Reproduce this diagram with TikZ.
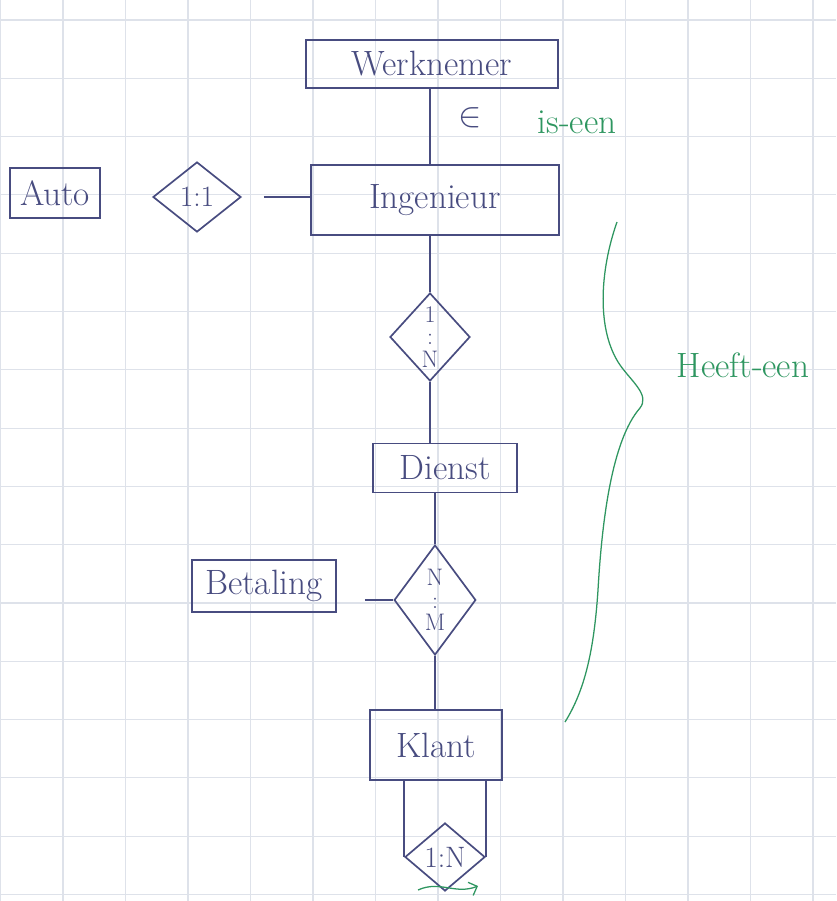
\documentclass[tikz,border=0pt]{standalone}
\usepackage{tikz}
\usetikzlibrary{shapes.geometric,arrows.meta}
\definecolor{inkblue}{RGB}{72,76,128}
\definecolor{inkgreen}{RGB}{46,150,96}
\definecolor{gridblue}{RGB}{222,226,234}
\newcommand{\entfont}{\fontsize{25}{30}\selectfont}
\newcommand{\relfont}{\fontsize{21}{21}\selectfont}
\newcommand{\stackfont}{\fontsize{17}{16}\selectfont}

\begin{document}
\begin{tikzpicture}[x=0.025cm,y=-0.025cm,
    entity/.style={draw=inkblue,line width=1.2pt,text=inkblue,font=\entfont,inner sep=0pt},
    relation/.style={draw=inkblue,line width=1.2pt,diamond,text=inkblue,font=\relfont,inner sep=0pt,align=center},
    link/.style={draw=inkblue,line width=1.2pt},
    note/.style={text=inkgreen,font=\entfont}]
    \useasboundingbox (0,0) rectangle (836,901);
    \fill[white] (0,0) rectangle (836,901);
    \foreach \i in {0,...,13} \draw[gridblue,line width=0.8pt] (0.5+62.5*\i,0)--(0.5+62.5*\i,901);
    \foreach \j in {0,...,15} \draw[gridblue,line width=0.8pt] (0,20+58.3*\j)--(836,20+58.3*\j);

    \node[entity,minimum width=6.3cm,minimum height=1.2cm] (wn) at (432,64) {Werknemer};
    \node[entity,minimum width=6.2cm,minimum height=1.75cm] (ing) at (435,200) {Ingenieur};
    \node[entity,minimum width=2.25cm,minimum height=1.25cm] (auto) at (55,193) {Auto};
    \node[relation,minimum width=2.2cm,minimum height=1.75cm] (r11) at (197,197) {1:1};
    \node[relation,font=\stackfont,minimum width=2cm,minimum height=2.2cm] (r1n) at (430,337) {1\\:\\N};
    \node[entity,minimum width=3.6cm,minimum height=1.23cm] (dienst) at (445,468) {Dienst};
    \node[relation,font=\stackfont,minimum width=1.7cm,minimum height=2.75cm] (rnm) at (435,600) {N\\:\\M};
    \node[entity,minimum width=3.6cm,minimum height=1.3cm] (bet) at (264,586) {Betaling};
    \node[entity,minimum width=3.3cm,minimum height=1.75cm] (klant) at (436,745) {Klant};
    \node[relation,minimum width=2cm,minimum height=1.7cm] (r1nb) at (445,857) {1:N};

    \draw[link] (wn.south -| r1n) -- (ing.north -| r1n);
    \draw[link,shorten <=0.55cm] (r11.east) -- (r11.east -| ing.west);
    \draw[link] (ing.south -| r1n) -- (r1n.north);
    \draw[link] (r1n.south) -- (r1n.south |- dienst.north);
    \draw[link] (dienst.south -| rnm) -- (rnm.north);
    \draw[link,shorten <=0.7cm] (bet.east |- rnm.west) -- (rnm.west);
    \draw[link] (rnm.south) -- (rnm.south |- klant.north);
    \draw[link] (klant.south -| r1nb.west) -- (r1nb.west);
    \draw[link] (klant.south -| r1nb.east) -- (r1nb.east);

    \node[text=inkblue,font=\entfont] (elem) at (470,118) {$\in$};
    \node[note] (isa) at (577,122) {is-een};
    \node[note,anchor=west] (has) at (672,365) {Heeft-een};
    \draw[inkgreen,line width=0.9pt] (617,222) .. controls (600,270) and (596,330) .. (620,365)
        .. controls (632,382) and (650,395) .. (640,408)
        .. controls (612,440) and (602,520) .. (598,590)
        .. controls (594,650) and (585,690) .. (565,722);
    \draw[inkgreen,line width=0.9pt,-{Straight Barb[length=5pt]}] (418,890) .. controls (440,880) and (455,895) .. (478,886);
\end{tikzpicture}
\end{document}
